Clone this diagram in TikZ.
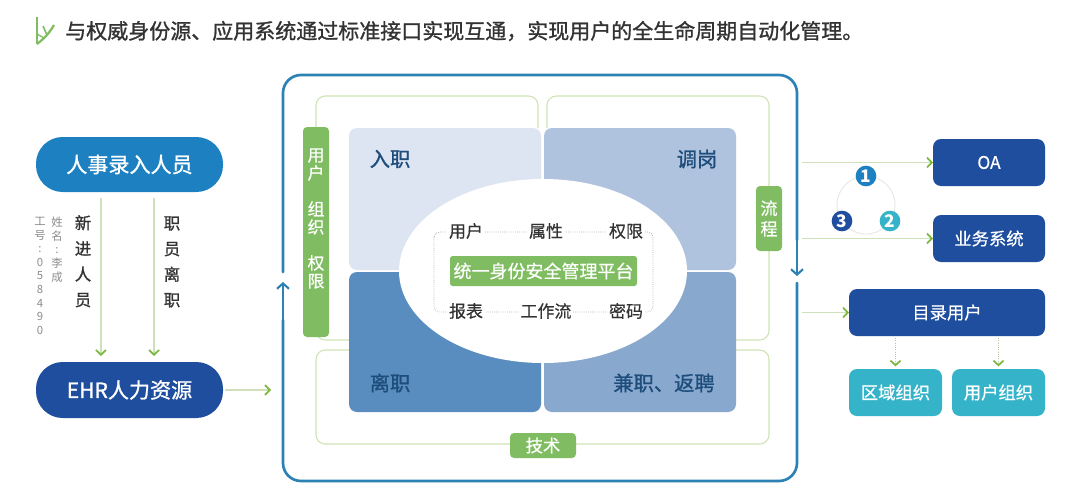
\documentclass[tikz,border=0pt]{standalone}
\usepackage{fontspec}
\usetikzlibrary{shapes.geometric,arrows.meta}
\setmainfont{Noto Sans CJK SC}
\newfontfamily\medf[FakeBold=1.1]{Noto Sans CJK SC}
\newfontfamily\semif[FakeBold=0.5]{Noto Sans CJK SC}
\definecolor{flowpale}{HTML}{CFE0BA}
\definecolor{flowtip}{HTML}{7DB83F}
\definecolor{edgeblue}{HTML}{2C82B5}
\definecolor{framegreen}{HTML}{CFE3B4}
\definecolor{bargreen}{HTML}{80BD62}
\definecolor{navy}{HTML}{1F4E9F}
\definecolor{skyb}{HTML}{1D80C0}
\definecolor{tealb}{HTML}{35B3C9}
\definecolor{quadtext}{HTML}{1E4D7C}
\definecolor{bodytext}{HTML}{333333}
\definecolor{qtl}{HTML}{DDE4F2}
\definecolor{qtr}{HTML}{AFC3DE}
\definecolor{qbl}{HTML}{5A8DBF}
\definecolor{qbr}{HTML}{88A8CE}
\newcommand{\fs}[2]{\fontsize{#1}{#2}\selectfont}
\tikzset{
  x=0.75pt,y=-0.75pt,
  wh/.style 2 args={minimum width=#1*0.75pt,minimum height=#2*0.75pt,inner sep=0pt,outer sep=0pt},
  flow/.style={draw=flowpale,line width=0.9pt,-{Straight Barb[color=flowtip,length=3.6pt,width=7.5pt,line width=1.3pt]}},
  dotflow/.style={draw=flowpale!70!gray,line width=0.7pt,densely dotted,-{Straight Barb[color=flowtip,length=3.4pt,width=7.5pt,line width=1.3pt]}},
  edge/.style={draw=edgeblue,line width=2pt,rounded corners=13.5pt,line cap=round},
  edgetip/.style={edge,-{Straight Barb[color=edgeblue,length=4pt,width=9pt,line width=1.6pt]}},
  frameline/.style={draw=framegreen,line width=0.8pt,rounded corners=7pt},
  quad/.style={rounded corners=6pt,draw=none},
  bar/.style={fill=bargreen,rounded corners=3pt,text=white},
  bartext/.style={text=white,align=center,inner sep=0pt},
  pill/.style={rounded corners=20pt,text=white,font=\medf\fs{15.8pt}{18pt}},
  dbox/.style={fill=navy,rounded corners=6pt,text=white,font=\semif\fs{13pt}{15pt}},
  tbox/.style={fill=tealb,rounded corners=6pt,text=white,font=\semif\fs{13pt}{15pt}},
  quadlabel/.style={text=quadtext,font=\medf\fs{15.2pt}{18pt},inner sep=0pt},
  corelabel/.style={text=bodytext,font=\semif\fs{12.7pt}{15pt},fill=white,inner sep=1.5pt},
  vlabel/.style={text=bodytext,align=center,inner sep=0pt,font=\medf\fs{12.3pt}{19.2pt}},
  vsmall/.style={text=black!45,align=center,inner sep=0pt,font=\fs{8.5pt}{10.2pt}},
  num/.style={circle,minimum size=15.5pt,inner sep=0pt,text=white,font=\bfseries\fs{13pt}{14pt}},
}
\begin{document}
\begin{tikzpicture}
\useasboundingbox (0,0) rectangle (1080,500);
\fill[white] (0,0) rectangle (1080,500);

% logo
\draw[bargreen,line width=2.2pt] (37,17) -- (37,44);
\draw[bargreen,line width=1.7pt] (37,44) .. controls (45,38) and (50,32) .. (54,25);
\draw[bargreen,line width=1.2pt] (43,26) -- (47,35);
\draw[bargreen,line width=1pt] (37,34) -- (44,38);

% title
\node[anchor=west,inner sep=0pt,text=bodytext,font=\medf\fs{15.75pt}{18pt}] (title) at (65,31)
  {与权威身份源、应用系统通过标准接口实现互通，实现用户的全生命周期自动化管理。};

% outer blue frame
\coordinate (lgapA) at (283,272);
\coordinate (lgapB) at (283,282);
\coordinate (rgapA) at (797,276);
\coordinate (rgapB) at (797,283);
\draw[edge] (lgapA) |- (797,75) -- (797,240);
\draw[edgetip,rounded corners=0pt] (797,235) -- (rgapA);
\draw[edge] (rgapB) |- (283,481) -- (283,320);
\draw[edgetip,rounded corners=0pt] (283,325) -- (lgapB);

% green frames
\draw[frameline] (316,128) |- (538,96) -- (538,128);
\draw[frameline] (547,128) |- (769,96) |- (736,340);
\draw[frameline] (736,350) -| (769,444) -- (576,444);
\draw[frameline] (349,350) -| (316,444) -- (510,444);
\draw[frameline] (316,128) |- (349,340);

% quadrants
\node[quad,fill=qtl,wh={192}{142}] (qa) at (445,199) {};
\node[quad,fill=qtr,wh={192}{142}] (qb) at (640,199) {};
\node[quad,fill=qbl,wh={192}{140}] (qc) at (445,342) {};
\node[quad,fill=qbr,wh={192}{140}] (qd) at (640,342) {};
\node[quadlabel] (la) at (390,159) {入职};
\node[quadlabel] (lb) at (697,159) {调岗};
\node[quadlabel] (lc) at (390,383) {离职};
\node[quadlabel] (ld) at (664,383) {兼职、返聘};

% core
\node[ellipse,fill=white,wh={288}{184}] (core) at (543,271) {};
\draw[draw=black!30,densely dotted,line width=0.6pt,rounded corners=4pt] (434,232) rectangle (653,312);
\node[corelabel] (c1) at (466,231) {用户};
\node[corelabel] (c2) at (546,231) {属性};
\node[corelabel] (c3) at (626,231) {权限};
\node[corelabel] (c4) at (466,311) {报表};
\node[corelabel] (c5) at (546,311) {工作流};
\node[corelabel] (c6) at (626,311) {密码};
\node[fill=bargreen,rounded corners=2pt,text=white,wh={187}{30},font=\semif\fs{13.5pt}{15pt}] (platform) at (543.5,271) {统一身份安全管理平台};

% green bars
\node[bar,wh={26}{210}] (barl) at (316,232) {};
\node[bartext,font=\semif\fs{12.6pt}{13.5pt}] (barltext) at (316,218.5)
  {用\\户\\[13.5pt]组\\织\\[13.5pt]权\\限};
\node[bar,wh={26}{65},align=center,font=\semif\fs{12.8pt}{15.5pt}] (barr) at (769,218.5) {流\\程};
\node[bar,wh={66}{25},font=\semif\fs{13pt}{15pt}] (bart) at (543,445.5) {技术};

% left
\node[pill,fill=skyb,wh={187}{55}] (hr) at (129.5,164.5) {人事录入人员};
\node[pill,fill=navy,wh={187}{56}] (ehr) at (129.5,390) {EHR人力资源};
\draw[flow] ([xshift=-21.4pt,yshift=-4.5pt]hr.south) -- ([xshift=-21.4pt,yshift=4.5pt]ehr.north);
\draw[flow] ([xshift=18.4pt,yshift=-4.5pt]hr.south) -- ([xshift=18.4pt,yshift=4.5pt]ehr.north);
\coordinate (ehrout) at (271,390);
\draw[flow] ([xshift=1.5pt]ehr.east) -- (ehrout);
\node[vlabel,anchor=north] (newin) at (83,215) {新\\进\\人\\员};
\node[vlabel,anchor=north] (leave) at (172,216) {职\\员\\离\\职};
\node[vsmall,anchor=north] (nm) at (57,217) {姓\\名\\:\\李\\成};
\node[vsmall,anchor=north] (no) at (40,217) {工\\号\\:\\0\\5\\8\\4\\9\\0};

% right
\node[dbox,wh={112}{47}] (oa) at (989,162.5) {OA};
\node[dbox,wh={112}{47}] (biz) at (989,238.5) {业务系统};
\node[dbox,wh={196}{47}] (dir) at (947,312.5) {目录用户};
\node[tbox,wh={93}{47}] (area) at (895.5,392.5) {区域组织};
\node[tbox,wh={93}{47}] (usr) at (998.5,392.5) {用户组织};
\coordinate (s1) at (802,162.5);
\coordinate (s2) at (802,238.5);
\coordinate (s3) at (802,312.5);
\draw[flow] (s1) -- (oa.west);
\draw[flow] (s2) -- (biz.west);
\draw[flow] (s3) -- (dir.west);
\draw[dotflow] ([yshift=-1.5pt]dir.south -| area.north) -- ([yshift=2pt]area.north);
\draw[dotflow] ([yshift=-1.5pt]dir.south -| usr.north) -- ([yshift=2pt]usr.north);

% cycle
\draw[black!10,line width=0.6pt] (866,205) circle[radius=21.75pt];
\node[num,fill=skyb] (n1) at (866,176) {1};
\node[num,fill=tealb] (n2) at (890,221) {2};
\node[num,fill=navy] (n3) at (842,221) {3};
\end{tikzpicture}
\end{document}
